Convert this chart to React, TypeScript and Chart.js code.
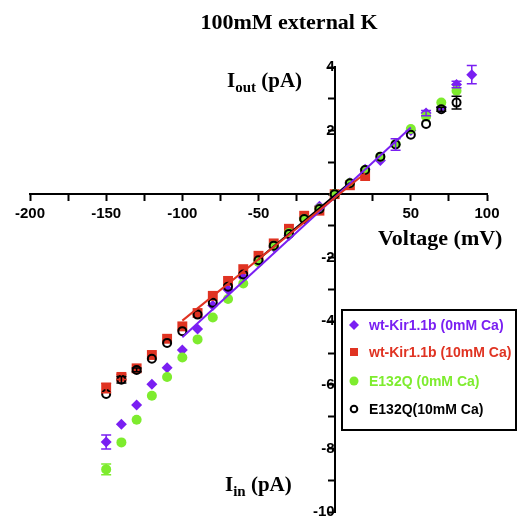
import React, { useEffect, useRef } from 'react';
import { Chart, registerables } from 'chart.js';

Chart.register(...registerables);

// ---- data ----
const voltages = [-150, -140, -130, -120, -110, -100, -90, -80, -70, -60, -50, -40, -30, -20, -10, 0, 10, 20, 30, 40, 50, 60, 70, 80, 90];

const wtKir0Ca = [-7.8, -7.24, -6.63, -5.98, -5.46, -4.9, -4.24, -3.5, -3.01, -2.62, -2.15, -1.66, -1.3, -0.75, -0.38, 0, 0.36, 0.78, 1.06, 1.56, 2.0, 2.55, 2.73, 3.45, 3.76];
const wtKir0CaErr = [0.22, 0, 0, 0, 0, 0, 0, 0, 0, 0, 0, 0, 0, 0, 0, 0, 0, 0, 0, 0.18, 0, 0.08, 0, 0.1, 0.29];

const wtKir10Ca = [-6.1, -5.75, -5.48, -5.06, -4.55, -4.16, -3.74, -3.2, -2.73, -2.36, -1.94, -1.55, -1.09, -0.68, -0.52, 0, 0.28, 0.57, null, null, null, null, null, null, null];
const wtKir10CaErr = [0.15, 0.08, 0, 0, 0, 0, 0, 0, 0, 0, 0, 0, 0, 0, 0, 0, 0, 0, 0, 0, 0, 0, 0, 0, 0];

const e132q0Ca = [-8.66, -7.81, -7.1, -6.34, -5.75, -5.14, -4.57, -3.88, -3.3, -2.81, -2.13, -1.62, -1.22, -0.78, -0.45, 0, 0.34, 0.76, 1.18, 1.58, 2.05, 2.44, 2.88, 3.25, null];
const e132q0CaErr = [0.17, 0, 0, 0, 0, 0, 0, 0, 0, 0, 0, 0, 0, 0, 0, 0, 0, 0, 0, 0, 0, 0, 0, 0, 0];

const e132q10Ca = [-6.29, -5.84, -5.53, -5.18, -4.68, -4.31, -3.79, -3.42, -2.91, -2.53, -2.08, -1.62, -1.25, -0.78, -0.47, 0, 0.34, 0.76, 1.18, 1.56, 1.87, 2.21, 2.67, 2.88, null];
const e132q10CaErr = [0, 0.1, 0.06, 0, 0, 0, 0, 0, 0, 0, 0, 0, 0, 0, 0, 0, 0, 0, 0, 0, 0, 0, 0.06, 0.2, 0];

// linear fits (end points)
const wtKir0CaFitV = [-100, 50];
const wtKir0CaFitI = [-4.5, 2.1];
const wtKir10CaFitV = [-100, 20];
const wtKir10CaFitI = [-3.98, 0.66];
const e132q10CaFitV = [-50, 10];
const e132q10CaFitI = [-2.05, 0.36];

const seriesNames = ['wt-Kir1.1b (0mM Ca)', 'wt-Kir1.1b (10mM Ca)', 'E132Q (0mM Ca)', 'E132Q(10mM Ca)'];
const seriesColors = ['#7a1ff2', '#e03322', '#7eec2e', '#000000'];

const xMin = -200, xMax = 100, xStep = 25, xLabelEvery = 50;
const yMin = -10, yMax = 4, yStep = 1, yLabelEvery = 2;

const titleText = '100mM external K';

const toPts = (xs: number[], ys: (number | null)[]) =>
  xs.map((x, i) => ({ x, y: ys[i] })).filter((p) => p.y !== null) as { x: number; y: number }[];

const errorBarPlugin = {
  id: 'errorBars',
  afterDatasetsDraw(chart: any) {
    const ctx = chart.ctx;
    const yScale = chart.scales.y;
    chart.data.datasets.forEach((ds: any, i: number) => {
      if (!ds.errors) return;
      const meta = chart.getDatasetMeta(i);
      ds.data.forEach((p: any, j: number) => {
        const e = ds.errors[j];
        if (!e) return;
        const el = meta.data[j];
        if (!el) return;
        const x = el.x;
        const yt = yScale.getPixelForValue(p.y + e);
        const yb = yScale.getPixelForValue(p.y - e);
        ctx.save();
        ctx.strokeStyle = ds.errColor;
        ctx.lineWidth = 1.5;
        ctx.beginPath();
        ctx.moveTo(x, yt); ctx.lineTo(x, yb);
        ctx.moveTo(x - 5, yt); ctx.lineTo(x + 5, yt);
        ctx.moveTo(x - 5, yb); ctx.lineTo(x + 5, yb);
        ctx.stroke();
        ctx.restore();
      });
    });
  },
};

const textPlugin = {
  id: 'texts',
  afterDraw(chart: any) {
    const ctx = chart.ctx;
    ctx.save();
    ctx.fillStyle = '#000';
    ctx.textBaseline = 'alphabetic';
    // title
    ctx.font = 'bold 22px "Liberation Serif"';
    ctx.textAlign = 'center';
    ctx.fillText(titleText, 289, 29);

    const subLabel = (x: number, y: number, main: string, sub: string, rest: string) => {
      ctx.textAlign = 'left';
      ctx.font = 'bold 21px "Liberation Serif"';
      ctx.fillText(main, x, y);
      let cx = x + ctx.measureText(main).width;
      ctx.font = 'bold 15px "Liberation Serif"';
      ctx.fillText(sub, cx, y + 5);
      cx += ctx.measureText(sub).width;
      ctx.font = 'bold 21px "Liberation Serif"';
      ctx.fillText(rest, cx, y);
    };
    subLabel(227, 87, 'I', 'out', ' (pA)');
    subLabel(225, 491, 'I', 'in', ' (pA)');

    ctx.textAlign = 'left';
    ctx.font = 'bold 22px "Liberation Serif"';
    ctx.fillText('Voltage (mV)', 378, 245);

    // legend
    const bx = 342, by = 310, bw = 174, bh = 120;
    ctx.fillStyle = '#fff';
    ctx.fillRect(bx, by, bw, bh);
    ctx.strokeStyle = '#000';
    ctx.lineWidth = 2;
    ctx.strokeRect(bx, by, bw, bh);
    const rows = [325, 352, 381, 409];
    ctx.font = 'bold 14px "Liberation Sans"';
    ctx.textBaseline = 'middle';
    rows.forEach((ry, k) => {
      const c = seriesColors[k];
      const mx = 354;
      ctx.fillStyle = c;
      ctx.strokeStyle = c;
      if (k === 0) {
        ctx.beginPath();
        ctx.moveTo(mx - 5, ry); ctx.lineTo(mx, ry - 5); ctx.lineTo(mx + 5, ry); ctx.lineTo(mx, ry + 5);
        ctx.closePath(); ctx.fill();
      } else if (k === 1) {
        ctx.fillRect(mx - 4, ry - 4, 8, 8);
      } else if (k === 2) {
        ctx.beginPath(); ctx.arc(mx, ry, 4.5, 0, Math.PI * 2); ctx.fill();
      } else {
        ctx.lineWidth = 2;
        ctx.beginPath(); ctx.arc(mx, ry, 3.3, 0, Math.PI * 2); ctx.stroke();
      }
      ctx.fillStyle = c;
      ctx.fillText(seriesNames[k], 369, ry + 1);
    });
    ctx.restore();
  },
};

export default function App() {
  const ref = useRef<HTMLCanvasElement>(null);
  useEffect(() => {
    if (!ref.current) return;
    const pointDs = (k: number, ys: (number | null)[], errs: number[], style: string, radius: number, order: number, hollow = false) => {
      const data = toPts(voltages, ys);
      const errors = voltages.map((_, i) => i).filter((i) => ys[i] !== null).map((i) => errs[i]);
      return {
        label: seriesNames[k],
        data,
        errors,
        errColor: seriesColors[k],
        pointStyle: style,
        pointRadius: radius,
        pointBackgroundColor: hollow ? 'rgba(0,0,0,0)' : seriesColors[k],
        pointBorderColor: seriesColors[k],
        pointBorderWidth: hollow ? 2 : 0,
        showLine: false,
        order,
      };
    };
    const lineDs = (k: number, xs: number[], ys: number[]) => ({
      label: seriesNames[k] + ' fit',
      data: toPts(xs, ys),
      showLine: true,
      borderColor: seriesColors[k],
      borderWidth: 2,
      pointRadius: 0,
      order: -1,
    });
    const chart = new Chart(ref.current, {
      type: 'scatter',
      data: {
        datasets: [
          pointDs(0, wtKir0Ca, wtKir0CaErr, 'rectRot', 5.5, 4),
          pointDs(1, wtKir10Ca, wtKir10CaErr, 'rect', 7, 3),
          pointDs(2, e132q0Ca, e132q0CaErr, 'circle', 5, 2),
          pointDs(3, e132q10Ca, e132q10CaErr, 'circle', 4, 1, true),
          lineDs(1, wtKir10CaFitV, wtKir10CaFitI),
          lineDs(0, wtKir0CaFitV, wtKir0CaFitI),
          lineDs(3, e132q10CaFitV, e132q10CaFitI),
        ] as any,
      },
      options: {
        animation: false,
        responsive: false,
        devicePixelRatio: 1,
        layout: { padding: { left: 30, right: 31, top: 67, bottom: 7 } },
        plugins: { legend: { display: false }, tooltip: { enabled: false }, title: { display: false } },
        scales: {
          x: {
            type: 'linear',
            min: xMin,
            max: xMax,
            position: { y: 0 } as any,
            grid: { drawOnChartArea: false, tickLength: 6, tickColor: '#000', tickWidth: 2 },
            border: { color: '#000', width: 2 },
            ticks: {
              stepSize: xStep,
              autoSkip: false,
              maxRotation: 0,
              padding: 5,
              color: '#000',
              font: { family: '"Liberation Sans"', size: 15, weight: 'bold' },
              callback: (v: any) => (v % xLabelEvery === 0 && v !== 0 ? String(v) : ''),
            },
          },
          y: {
            type: 'linear',
            min: yMin,
            max: yMax,
            position: { x: 0 } as any,
            grid: { drawOnChartArea: false, tickLength: 6, tickColor: '#000', tickWidth: 2 },
            border: { color: '#000', width: 2 },
            ticks: {
              stepSize: yStep,
              autoSkip: false,
              padding: 2,
              color: '#000',
              font: { family: '"Liberation Sans"', size: 15, weight: 'bold' },
              callback: (v: any) => (v % yLabelEvery === 0 && v !== 0 ? String(v) : ''),
            },
          },
        },
      },
      plugins: [errorBarPlugin, textPlugin],
    } as any);
    return () => chart.destroy();
  }, []);
  return (
    <canvas
      ref={ref}
      width={518}
      height={523}
      style={{ position: 'fixed', left: 0, top: 0, width: 518, height: 523, background: '#fff' }}
    />
  );
}
